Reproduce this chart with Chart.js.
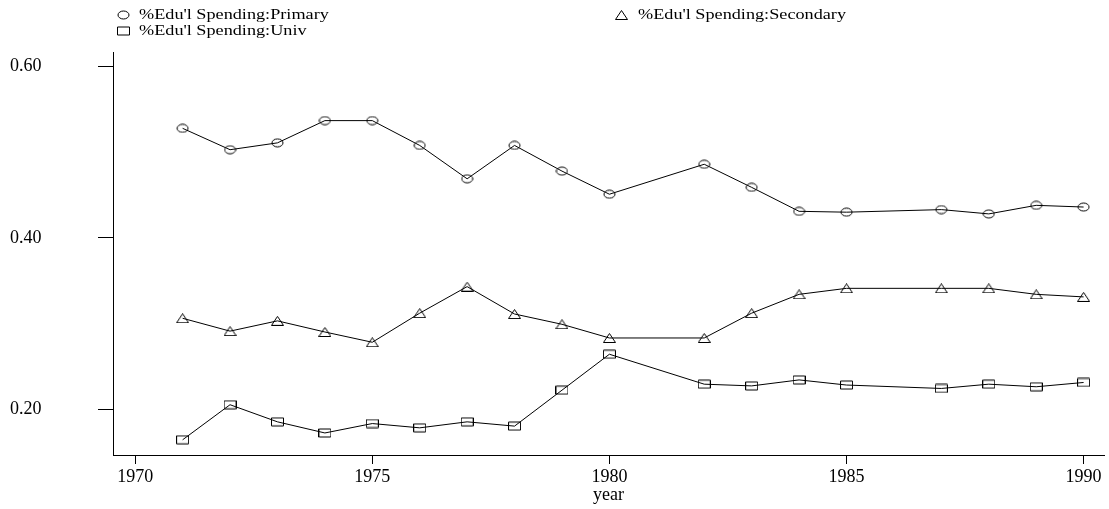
<!DOCTYPE html>
<html>
<head>
<meta charset="utf-8">
<script src="https://cdn.jsdelivr.net/npm/chart.js@4"></script>
<style>
    html, body { margin: 0; padding: 0; background: #fff; }
    #wrap { width: 1109px; height: 509px; }
</style>
</head>
<body>
<div id="wrap"><canvas id="eduChart" width="1109" height="509"></canvas></div>
<script>
// data
const years = [1971, 1972, 1973, 1974, 1975, 1976, 1977, 1978, 1979, 1980, 1982, 1983, 1984, 1985, 1987, 1988, 1989, 1990];
const primary = [0.528, 0.503, 0.511, 0.537, 0.537, 0.508, 0.469, 0.508, 0.478, 0.451, 0.486, 0.459, 0.431, 0.430, 0.433, 0.428, 0.438, 0.436];
const secondary = [0.306, 0.291, 0.303, 0.290, 0.278, 0.312, 0.343, 0.311, 0.299, 0.283, 0.283, 0.312, 0.334, 0.341, 0.341, 0.341, 0.334, 0.331];
const univ = [0.164, 0.205, 0.185, 0.172, 0.183, 0.178, 0.185, 0.180, 0.222, 0.264, 0.229, 0.227, 0.234, 0.228, 0.224, 0.229, 0.226, 0.231];
const seriesLabels = ["%Edu'l Spending:Primary", "%Edu'l Spending:Secondary", "%Edu'l Spending:Univ"];
const xTicks = [1970, 1975, 1980, 1985, 1990];
const yTicks = [0.20, 0.40, 0.60];

// hollow marker glyphs (slightly wide, like the original)
function makeMarker(kind) {
    const c = document.createElement('canvas');
    c.width = 13;
    c.height = 10;
    const g = c.getContext('2d');
    g.strokeStyle = '#000';
    g.lineWidth = 1;
    g.beginPath();
    if (kind === 'ellipse') {
        g.ellipse(6.5, 5, 5.5, 4, 0, 0, Math.PI * 2);
    } else if (kind === 'rect') {
        g.rect(0.5, 1, 12, 8);
    } else {
        g.moveTo(6.5, 0.5);
        g.lineTo(12.5, 9.5);
        g.lineTo(0.5, 9.5);
        g.closePath();
    }
    g.stroke();
    return c;
}

const markers = [makeMarker('ellipse'), makeMarker('triangle'), makeMarker('rect')];

function toPoints(values) {
    return values.map((v, i) => ({ x: years[i], y: v }));
}

// legend drawn in the top band: two columns, like the source graph
const legendSpots = [
    { mx: 123, my: 15, tx: 139 },
    { mx: 621, my: 15, tx: 638 },
    { mx: 123, my: 31, tx: 139 }
];

const topLegend = {
    id: 'topLegend',
    afterDraw(chart) {
        const ctx = chart.ctx;
        chart.data.datasets.forEach((ds, i) => {
            const s = legendSpots[i];
            const m = ds.pointStyle;
            ctx.drawImage(m, Math.round(s.mx - m.width / 2), Math.round(s.my - m.height / 2));
            ctx.save();
            ctx.translate(s.tx, s.my);
            ctx.scale(1.3, 1);
            ctx.font = '14px "Liberation Serif", "Times New Roman", serif';
            ctx.fillStyle = '#000';
            ctx.textBaseline = 'middle';
            ctx.textAlign = 'left';
            ctx.fillText(ds.label, 0, 0);
            ctx.restore();
        });
    }
};

Chart.defaults.font.family = '"Liberation Serif", "Times New Roman", serif';
Chart.defaults.color = '#000';

function makeDataset(i, values) {
    return {
        label: seriesLabels[i],
        data: toPoints(values),
        borderColor: '#000',
        borderWidth: 1,
        fill: false,
        tension: 0,
        pointStyle: markers[i],
        pointRadius: 4,
        pointBorderColor: '#000',
        pointBackgroundColor: 'rgba(0,0,0,0)'
    };
}

// keep the plot box fixed: no extra room for overhanging labels
function noLabelPadding(scale) {
    scale.paddingLeft = 0;
    scale.paddingRight = 0;
    scale.paddingTop = 0;
    scale.paddingBottom = 0;
}

new Chart(document.getElementById('eduChart').getContext('2d'), {
    type: 'line',
    data: {
        datasets: [
            makeDataset(0, primary),
            makeDataset(1, secondary),
            makeDataset(2, univ)
        ]
    },
    options: {
        responsive: false,
        animation: false,
        events: [],
        layout: { padding: { top: 52, right: 1, bottom: 0, left: 10 } },
        plugins: {
            legend: { display: false },
            tooltip: { enabled: false }
        },
        scales: {
            x: {
                type: 'linear',
                min: 1969.532,
                max: 1990.43,
                afterBuildTicks: scale => { scale.ticks = xTicks.map(v => ({ value: v })); },
                afterFit: scale => { scale.height = 54; noLabelPadding(scale); },
                ticks: {
                    autoSkip: false,
                    maxRotation: 0,
                    padding: 2,
                    font: { size: 18 },
                    callback: v => String(v)
                },
                grid: { drawOnChartArea: false, drawTicks: true, tickLength: 9, color: '#000', lineWidth: 1 },
                border: { display: true, color: '#000', width: 1 },
                title: { display: true, text: 'year', font: { size: 18 }, padding: { top: 0, bottom: 3 } }
            },
            y: {
                type: 'linear',
                min: 0.14625,
                max: 0.61718,
                afterBuildTicks: scale => { scale.ticks = yTicks.map(v => ({ value: v })); },
                afterFit: scale => { scale.width = 103; noLabelPadding(scale); },
                ticks: {
                    autoSkip: false,
                    padding: 2,
                    crossAlign: 'far',
                    font: { size: 18 },
                    callback: v => v.toFixed(2)
                },
                grid: { drawOnChartArea: false, drawTicks: true, tickLength: 15, color: '#000', lineWidth: 1 },
                border: { display: true, color: '#000', width: 1 }
            }
        }
    },
    plugins: [topLegend]
});
</script>
</body>
</html>
